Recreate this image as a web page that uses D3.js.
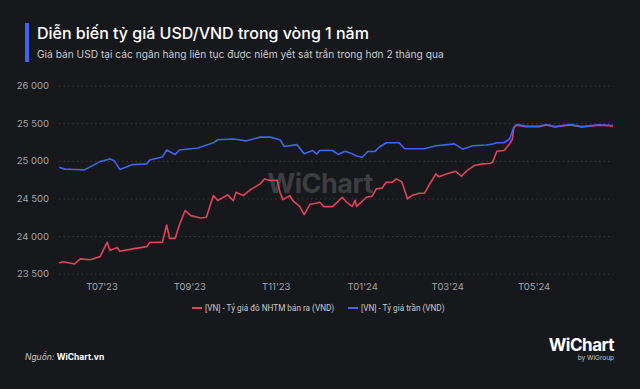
<!DOCTYPE html>
<html>
<head>
<meta charset="utf-8">
<script src="https://cdn.jsdelivr.net/npm/d3@7"></script>
<style>
  body { margin: 0; background: #17181b; }
  svg { display: block; font-family: Inter, "Noto Sans", sans-serif; }
</style>
</head>
<body>
<svg id="chart"></svg>
<script>
(() => {
  const width = 640;
  const height = 389;
  const margin = { top: 85, right: 27, bottom: 116, left: 59 };

  const title = "Diễn biến tỷ giá USD/VND trong vòng 1 năm";
  const subtitle = "Giá bán USD tại các ngân hàng liên tục được niêm yết sát trần trong hơn 2 tháng qua";
  const seriesNames = ["[VN] - Tỷ giá đô NHTM bán ra (VND)", "[VN] - Tỷ giá trần (VND)"];
  const colors = ["#e0435a", "#3d65f2"];
  const yTicks = [23500, 24000, 24500, 25000, 25500, 26000];
  const xTicks = ["2023-07-01", "2023-09-01", "2023-11-01", "2024-01-01", "2024-03-01", "2024-05-01"];
  const xDomain = ["2023-06-01", "2024-06-26"];

  // giá bán ra NHTM
  const bankRate = [
    ["2023-06-01", 23643], ["2023-06-04", 23660], ["2023-06-12", 23630], ["2023-06-16", 23697],
    ["2023-06-23", 23685], ["2023-06-30", 23727], ["2023-07-05", 23917], ["2023-07-07", 23807],
    ["2023-07-12", 23850], ["2023-07-14", 23798], ["2023-07-23", 23830], ["2023-08-02", 23860],
    ["2023-08-04", 23915], ["2023-08-13", 23920], ["2023-08-16", 24148], ["2023-08-18", 23970],
    ["2023-08-22", 23970], ["2023-08-25", 24150], ["2023-08-29", 24339], ["2023-09-02", 24272],
    ["2023-09-09", 24240], ["2023-09-13", 24250], ["2023-09-16", 24428], ["2023-09-18", 24538],
    ["2023-09-21", 24472], ["2023-09-28", 24548], ["2023-10-02", 24472], ["2023-10-04", 24582],
    ["2023-10-09", 24538], ["2023-10-14", 24614], ["2023-10-21", 24694], ["2023-10-24", 24760],
    ["2023-10-28", 24738], ["2023-11-02", 24740], ["2023-11-04", 24580], ["2023-11-06", 24485],
    ["2023-11-11", 24538], ["2023-11-13", 24470], ["2023-11-18", 24392], ["2023-11-21", 24286],
    ["2023-11-25", 24419], ["2023-11-30", 24440], ["2023-12-02", 24450], ["2023-12-05", 24392],
    ["2023-12-11", 24392], ["2023-12-18", 24516], ["2023-12-21", 24450], ["2023-12-25", 24395],
    ["2023-12-27", 24478], ["2023-12-28", 24395], ["2024-01-04", 24516], ["2024-01-08", 24530],
    ["2024-01-11", 24627], ["2024-01-15", 24640], ["2024-01-18", 24715], ["2024-01-22", 24715],
    ["2024-01-25", 24760], ["2024-01-29", 24720], ["2024-01-31", 24605], ["2024-02-02", 24494],
    ["2024-02-05", 24538], ["2024-02-10", 24570], ["2024-02-14", 24570], ["2024-02-17", 24672],
    ["2024-02-22", 24827], ["2024-02-24", 24790], ["2024-03-01", 24827], ["2024-03-07", 24862],
    ["2024-03-11", 24795], ["2024-03-15", 24870], ["2024-03-20", 24937], ["2024-03-26", 24960],
    ["2024-03-31", 24965], ["2024-04-02", 24980], ["2024-04-05", 25128], ["2024-04-10", 25137],
    ["2024-04-14", 25225], ["2024-04-16", 25290], ["2024-04-17", 25440], ["2024-04-19", 25475],
    ["2024-04-26", 25455], ["2024-05-05", 25455], ["2024-05-10", 25478], ["2024-05-16", 25450],
    ["2024-05-27", 25478], ["2024-06-04", 25450], ["2024-06-16", 25473], ["2024-06-26", 25465],
  ];

  // giá trần
  const ceilingRate = [
    ["2023-06-01", 24915], ["2023-06-05", 24890], ["2023-06-12", 24885], ["2023-06-19", 24880],
    ["2023-06-23", 24920], ["2023-06-30", 24990], ["2023-07-07", 25025], ["2023-07-10", 25000],
    ["2023-07-14", 24885], ["2023-07-23", 24950], ["2023-08-02", 24960], ["2023-08-04", 25010],
    ["2023-08-13", 25050], ["2023-08-16", 25145], ["2023-08-22", 25085], ["2023-08-25", 25145],
    ["2023-09-07", 25170], ["2023-09-18", 25240], ["2023-09-21", 25280], ["2023-10-02", 25290],
    ["2023-10-06", 25280], ["2023-10-11", 25265], ["2023-10-21", 25315], ["2023-10-28", 25315],
    ["2023-11-04", 25280], ["2023-11-07", 25190], ["2023-11-16", 25215], ["2023-11-21", 25093],
    ["2023-11-27", 25137], ["2023-11-30", 25090], ["2023-12-02", 25137], ["2023-12-07", 25140],
    ["2023-12-11", 25137], ["2023-12-15", 25085], ["2023-12-20", 25128], ["2023-12-25", 25093],
    ["2023-12-28", 25065], ["2024-01-01", 25048], ["2024-01-05", 25125], ["2024-01-10", 25125],
    ["2024-01-13", 25180], ["2024-01-18", 25240], ["2024-01-27", 25240], ["2024-01-31", 25160],
    ["2024-02-05", 25160], ["2024-02-14", 25160], ["2024-02-22", 25200], ["2024-03-01", 25215],
    ["2024-03-06", 25225], ["2024-03-12", 25155], ["2024-03-19", 25200], ["2024-03-29", 25210],
    ["2024-04-02", 25225], ["2024-04-05", 25240], ["2024-04-10", 25240], ["2024-04-14", 25290],
    ["2024-04-17", 25447], ["2024-04-19", 25483], ["2024-04-26", 25460], ["2024-05-05", 25460],
    ["2024-05-10", 25483], ["2024-05-16", 25455], ["2024-05-27", 25483], ["2024-06-04", 25455],
    ["2024-06-16", 25478], ["2024-06-26", 25470],
  ];

  const parse = d3.timeParse("%Y-%m-%d");
  const series = [bankRate, ceilingRate].map((s) => s.map(([d, v]) => ({ date: parse(d), value: v })));

  const svg = d3.select("#chart").attr("width", width).attr("height", height);
  svg.append("rect").attr("width", width).attr("height", height).attr("fill", "#17181b");

  // header
  svg.append("rect").attr("x", 25).attr("y", 23).attr("width", 4).attr("height", 39).attr("fill", "#3d65f2");
  svg.append("text").attr("x", 37).attr("y", 39).attr("fill", "#ffffff")
    .attr("font-size", 16).attr("font-weight", 500).text(title);
  svg.append("text").attr("x", 37).attr("y", 58).attr("fill", "#c9cacd")
    .attr("font-size", 10.2).text(subtitle);

  const x = d3.scaleTime().domain(xDomain.map(parse)).range([margin.left, width - margin.right]);
  const y = d3.scaleLinear().domain([23500, 26000]).range([273.7, 85.6]);

  // grid + y labels
  const yAxis = svg.append("g").attr("transform", `translate(${margin.left},0)`)
    .call(d3.axisLeft(y).tickValues(yTicks).tickSize(-(width - margin.left - margin.right))
      .tickFormat((d) => d3.format(",")(d).replace(",", " ")).tickPadding(10));
  yAxis.select(".domain").remove();
  yAxis.selectAll(".tick line").attr("stroke", "#3a3c42").attr("stroke-dasharray", "1.5,3");
  yAxis.selectAll(".tick text").attr("fill", "#a3a5ab").attr("font-size", 9.5).attr("font-family", "Inter, sans-serif");

  // x labels
  const xAxis = svg.append("g").attr("transform", `translate(0,${275})`)
    .call(d3.axisBottom(x).tickValues(xTicks.map(parse)).tickSize(0).tickPadding(8)
      .tickFormat((d) => "T" + d3.timeFormat("%m'%y")(d)));
  xAxis.select(".domain").remove();
  xAxis.selectAll(".tick text").attr("fill", "#a3a5ab").attr("font-size", 9.5).attr("font-family", "Inter, sans-serif");

  // watermark
  svg.append("text").attr("x", 320).attr("y", 193).attr("text-anchor", "middle")
    .attr("fill", "#4a4b50").attr("fill-opacity", 0.75).attr("font-size", 27).attr("font-weight", 700)
    .attr("letter-spacing", -0.5).text("WiChart");

  const line = d3.line().x((d) => x(d.date)).y((d) => y(d.value)).curve(d3.curveLinear);
  series.forEach((s, i) => {
    svg.append("path").datum(s).attr("d", line).attr("fill", "none")
      .attr("stroke", colors[i]).attr("stroke-width", 1.6).attr("stroke-linejoin", "round");
  });

  // legend
  const legend = svg.append("g").attr("transform", "translate(0,308)");
  const lx = [192, 348];
  seriesNames.forEach((name, i) => {
    legend.append("line").attr("x1", lx[i]).attr("x2", lx[i] + 10).attr("stroke", colors[i]).attr("stroke-width", 2);
    legend.append("text").attr("x", lx[i] + 13).attr("y", 3.2).attr("fill", "#c9cacd")
      .attr("font-family", "Roboto, sans-serif").attr("font-size", 8.2).text(name);
  });

  // footer
  const src = svg.append("text").attr("x", 25).attr("y", 360).attr("font-size", 8.5);
  src.append("tspan").attr("fill", "#c9cacd").attr("font-style", "italic").text("Nguồn: ");
  src.append("tspan").attr("fill", "#ffffff").attr("font-weight", 700).text("WiChart.vn");

  svg.append("text").attr("x", 614).attr("y", 351).attr("text-anchor", "end")
    .attr("fill", "#ffffff").attr("font-size", 17).attr("font-weight", 700).attr("letter-spacing", -0.5).text("WiChart");
  svg.append("text").attr("x", 614).attr("y", 360).attr("text-anchor", "end")
    .attr("fill", "#c9cacd").attr("font-size", 6.5).text("by WiGroup");
})();
</script>
</body>
</html>
